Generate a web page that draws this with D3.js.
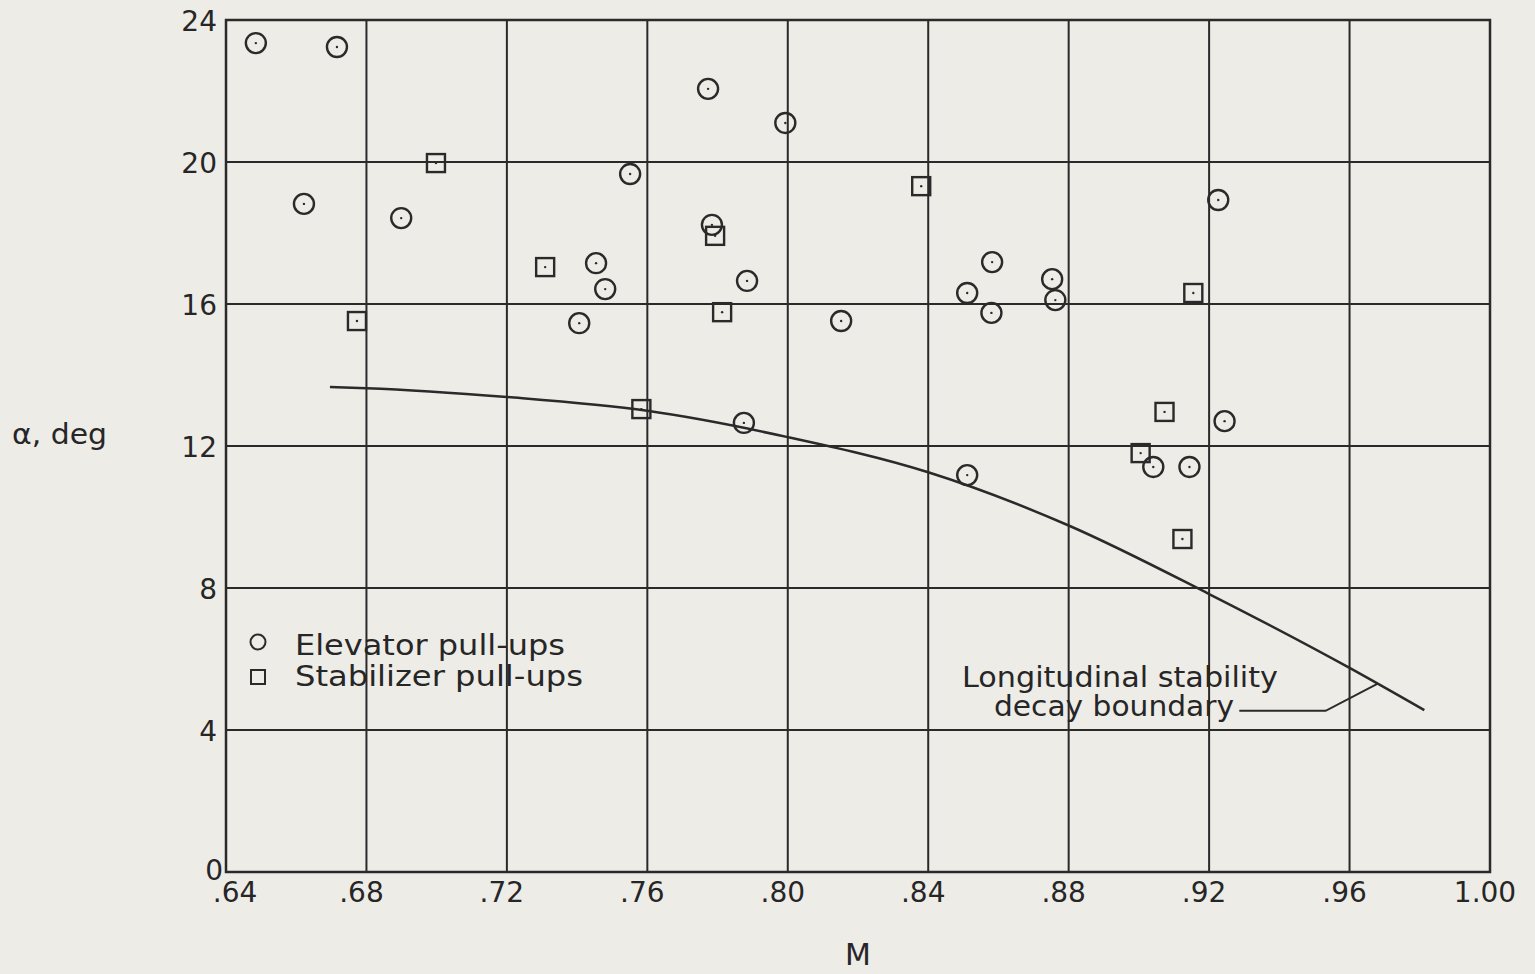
<!DOCTYPE html>
<html>
<head>
<meta charset="utf-8">
<script src="https://cdn.jsdelivr.net/npm/d3@7"></script>
<style>
  body { margin: 0; background: #eeece7; }
  svg { display: block; }
  text { font-family: 'DejaVu Sans', sans-serif; fill: #262626; }
</style>
</head>
<body>
<svg id="chart" width="1535" height="974"></svg>
<script>
'use strict';

// elevator pull-ups (circles): Mach number and angle of attack, deg
const elevatorM = [0.6485, 0.6716, 0.6622, 0.6899, 0.7551, 0.7773, 0.7993, 0.7784, 0.7454, 0.7480, 0.7406, 0.7884,
  0.8152, 0.7875, 0.8511, 0.8582, 0.8580, 0.8753, 0.8762, 0.8511, 0.9226, 0.9244, 0.9041, 0.9144];
const elevatorAlpha = [23.35, 23.24, 18.82, 18.42, 19.66, 22.06, 21.10, 18.23, 17.15, 16.42, 15.46, 16.65,
  15.52, 12.65, 16.31, 17.18, 15.75, 16.70, 16.11, 11.18, 18.93, 12.70, 11.41, 11.41];

// stabilizer pull-ups (squares)
const stabM = [0.6998, 0.6773, 0.7309, 0.7793, 0.7813, 0.7583, 0.8380, 0.9073, 0.9005, 0.9124, 0.9155];
const stabAlpha = [19.97, 15.52, 17.04, 17.92, 15.77, 13.04, 19.32, 12.96, 11.80, 9.38, 16.31];

// longitudinal stability decay boundary
const boundaryM = [0.6696, 0.68, 0.72, 0.76, 0.80, 0.84, 0.88, 0.92, 0.96, 0.9813];
const boundaryAlpha = [13.66, 13.63, 13.38, 12.99, 12.25, 11.26, 9.76, 7.83, 5.75, 4.56];

// leader from the label to the boundary curve
const leaderM = [0.9286, 0.9532, 0.9679];
const leaderAlpha = [4.54, 4.54, 5.30];

// axis ticks
const xTicks = [0.64, 0.68, 0.72, 0.76, 0.80, 0.84, 0.88, 0.92, 0.96, 1.00];
const yTicks = [0, 4, 8, 12, 16, 20, 24];

const ink = '#2a2a2a';
const svg = d3.select('#chart');

// plot frame in page pixels
const plotL = 226, plotR = 1490, plotT = 20, plotB = 872;
const x = d3.scaleLinear().domain([0.64, 1.00]).range([plotL, plotR]);
const y = d3.scaleLinear().domain([0, 24]).range([plotB, plotT]);

// grid: one line per tick, both directions
svg.append('g')
  .selectAll('line')
  .data(xTicks)
  .join('line')
  .attr('x1', d => x(d)).attr('x2', d => x(d))
  .attr('y1', plotT).attr('y2', plotB)
  .attr('stroke', ink).attr('stroke-width', 2);
svg.append('g')
  .selectAll('line')
  .data(yTicks)
  .join('line')
  .attr('x1', plotL).attr('x2', plotR)
  .attr('y1', d => y(d)).attr('y2', d => y(d))
  .attr('stroke', ink).attr('stroke-width', 2);
svg.append('rect')
  .attr('x', plotL).attr('y', plotT)
  .attr('width', plotR - plotL).attr('height', plotB - plotT)
  .attr('fill', 'none').attr('stroke', ink).attr('stroke-width', 2.5);

// tick labels, leading zero dropped like ".64"
const fmtM = d => (d < 1 ? d3.format('.2f')(d).slice(1) : d3.format('.2f')(d));
svg.append('g')
  .selectAll('text')
  .data(xTicks)
  .join('text')
  .attr('x', d => x(d) + (d === 0.64 ? 9 : -5))
  .attr('y', plotB + 30)
  .attr('text-anchor', 'middle')
  .style('font-size', '28px')
  .text(fmtM);
svg.append('g')
  .selectAll('text')
  .data(yTicks)
  .join('text')
  .attr('x', d => (d === 0 ? plotL - 3 : plotL - 9))
  .attr('y', d => y(d) + (d === 0 ? 8 : 11))
  .attr('text-anchor', 'end')
  .style('font-size', '28px')
  .text(d => d);

// axis titles
svg.append('text')
  .attr('x', 858).attr('y', 965)
  .attr('text-anchor', 'middle')
  .style('font-size', '30px')
  .text('M');
svg.append('text')
  .attr('x', 12).attr('y', 444)
  .attr('textLength', 95).attr('lengthAdjust', 'spacingAndGlyphs')
  .style('font-size', '29px')
  .text('α, deg');

// boundary curve
const line = d3.line()
  .x(i => x(boundaryM[i]))
  .y(i => y(boundaryAlpha[i]))
  .curve(d3.curveMonotoneX);
svg.append('path')
  .attr('d', line(d3.range(boundaryM.length)))
  .attr('fill', 'none').attr('stroke', ink).attr('stroke-width', 2.5);

// leader line
const leader = d3.line()
  .x(i => x(leaderM[i]))
  .y(i => y(leaderAlpha[i]));
svg.append('path')
  .attr('d', leader(d3.range(leaderM.length)))
  .attr('fill', 'none').attr('stroke', ink).attr('stroke-width', 2);

// circles: elevator pull-ups
const circ = svg.append('g')
  .selectAll('g')
  .data(d3.range(elevatorM.length))
  .join('g')
  .attr('transform', i => `translate(${x(elevatorM[i])},${y(elevatorAlpha[i])})`);
circ.append('circle')
  .attr('r', 10)
  .attr('fill', 'none').attr('stroke', ink).attr('stroke-width', 2.4);
circ.append('circle')
  .attr('r', 1.2).attr('fill', ink);

// squares: stabilizer pull-ups
const sq = svg.append('g')
  .selectAll('g')
  .data(d3.range(stabM.length))
  .join('g')
  .attr('transform', i => `translate(${x(stabM[i])},${y(stabAlpha[i])})`);
sq.append('rect')
  .attr('x', -9).attr('y', -9).attr('width', 18).attr('height', 18)
  .attr('fill', 'none').attr('stroke', ink).attr('stroke-width', 2.4);
sq.append('circle')
  .attr('r', 1.2).attr('fill', ink);

// legend
svg.append('circle')
  .attr('cx', 258).attr('cy', 642).attr('r', 7.5)
  .attr('fill', 'none').attr('stroke', ink).attr('stroke-width', 2);
svg.append('rect')
  .attr('x', 251).attr('y', 670).attr('width', 14).attr('height', 14)
  .attr('fill', 'none').attr('stroke', ink).attr('stroke-width', 2);
svg.append('text')
  .attr('x', 295).attr('y', 655)
  .attr('textLength', 270).attr('lengthAdjust', 'spacingAndGlyphs')
  .style('font-size', '28px')
  .text('Elevator pull-ups');
svg.append('text')
  .attr('x', 295).attr('y', 686)
  .attr('textLength', 288).attr('lengthAdjust', 'spacingAndGlyphs')
  .style('font-size', '28px')
  .text('Stabilizer pull-ups');

// curve annotation
svg.append('text')
  .attr('x', 962).attr('y', 687)
  .attr('textLength', 316).attr('lengthAdjust', 'spacingAndGlyphs')
  .style('font-size', '28px')
  .text('Longitudinal stability');
svg.append('text')
  .attr('x', 994).attr('y', 716)
  .attr('textLength', 240).attr('lengthAdjust', 'spacingAndGlyphs')
  .style('font-size', '28px')
  .text('decay boundary');
</script>
</body>
</html>
